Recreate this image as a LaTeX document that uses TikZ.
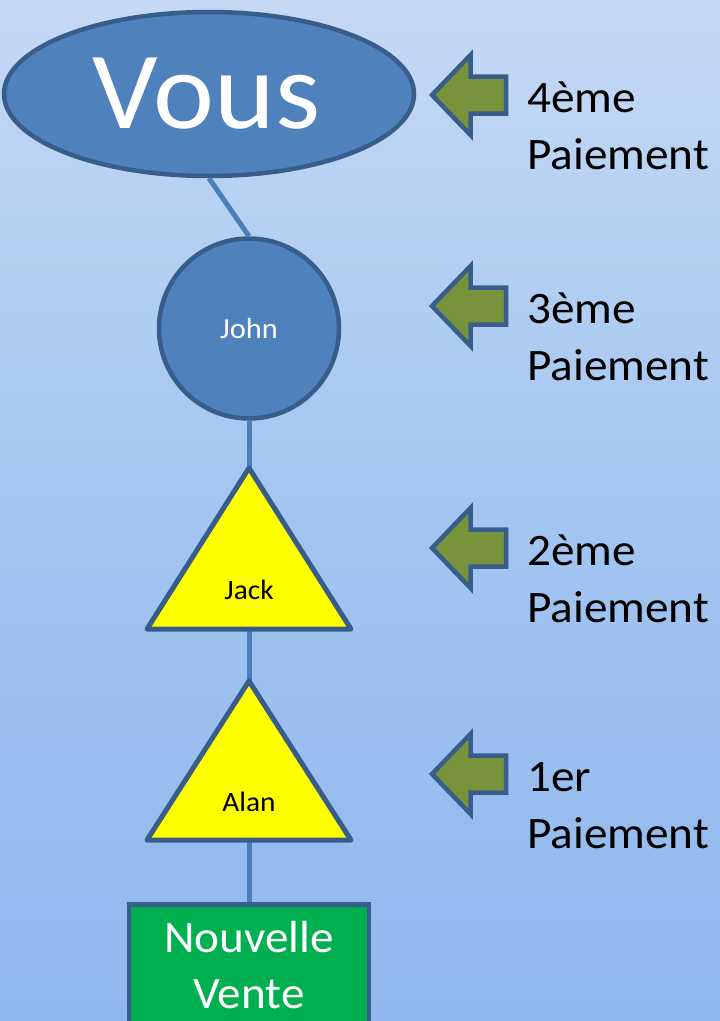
\documentclass[tikz,border=0pt]{standalone}
\usepackage{fontspec}
\setmainfont{Carlito}[FakeStretch=1.05]
\usetikzlibrary{shapes.geometric}
\definecolor{bgT}{RGB}{197,217,244}
\definecolor{bgM}{RGB}{163,197,241}
\definecolor{bgB}{RGB}{143,184,238}
\definecolor{shapeBlue}{RGB}{79,129,189}
\definecolor{borderBlue}{RGB}{56,93,138}
\definecolor{connBlue}{RGB}{74,126,187}
\definecolor{arrowGreen}{RGB}{119,147,60}
\definecolor{venteGreen}{RGB}{0,176,80}
\definecolor{triYellow}{RGB}{255,255,0}
\tikzset{
  bluenode/.style={draw=borderBlue, line width=4.5pt, fill=shapeBlue, inner sep=0pt, text=white},
  conn/.style={draw=connBlue, line width=5pt},
  tri/.style={draw=borderBlue, fill=triYellow, line width=5pt, line join=round},
  trilabel/.style={font=\fontsize{28}{28}\selectfont, anchor=base, inner sep=0pt, text=black},
  paylabel/.style={font=\fontsize{45}{57}\selectfont, anchor=base west, align=left, inner sep=0pt, text=black},
  arrowstyle/.style={draw=borderBlue, fill=arrowGreen, line width=4.5pt, line join=miter},
  payarrow/.pic={\path[arrowstyle] (-38.5,0) -- (0,-40) -- (0,-18.5) -- (35.5,-18.5) -- (35.5,18.5) -- (0,18.5) -- (0,40) -- cycle;}
}
\begin{document}
\begin{tikzpicture}[x=1pt,y=-1pt]
\useasboundingbox (0,0) rectangle (720,1021);
\clip (0,0) rectangle (720,1021);
\fill[top color=bgT, bottom color=bgB, middle color=bgM] (0,0) rectangle (720,1021);

% main nodes
\node[bluenode, ellipse, minimum width=410pt, minimum height=164pt,
      font=\fontsize{110}{110}\selectfont] (vous) at (209,94) {\raisebox{-2.5pt}{\kern-2.5pt Vous\kern2.5pt}};
\node[bluenode, circle, minimum size=180pt,
      font=\fontsize{29}{29}\selectfont] (john) at (249,328.5) {John};
\node[draw=borderBlue, line width=4.5pt, fill=venteGreen, minimum width=240pt,
      minimum height=170pt, anchor=north, inner sep=0pt] (vente) at (249,902) {};
\node[font=\fontsize{45}{56}\selectfont, text=white, align=center, anchor=base,
      inner sep=0pt] (venteTxt) at (249,1008) {Nouvelle\\Vente};

% triangle corners
\coordinate (jackA) at (249,468);
\coordinate (jackL) at (147,629);
\coordinate (jackR) at (351,629);
\coordinate (jackB) at (249,629);
\coordinate (alanA) at (249,681);
\coordinate (alanL) at (147,840);
\coordinate (alanR) at (351,840);
\coordinate (alanB) at (249,840);

% connectors
\draw[conn] (vous.south) -- (john.north);
\draw[conn] (john.south) -- (jackA);
\draw[conn] (jackB) -- (alanA);
\draw[conn] (alanB) -- (vente.north);

% triangles
\path[tri] (jackA) -- (jackL) -- (jackR) -- cycle;
\node[trilabel] (jack) at (249,599) {Jack};
\path[tri] (alanA) -- (alanL) -- (alanR) -- cycle;
\node[trilabel] (alan) at (249,811) {Alan};

% payment arrows and labels
\pic at (470.5,95) {payarrow};
\pic at (470.5,306) {payarrow};
\pic at (470.5,548) {payarrow};
\pic at (470.5,774) {payarrow};
\node[paylabel] (p4) at (527,169) {4ème\\Paiement};
\node[paylabel] (p3) at (527,380) {3ème\\Paiement};
\node[paylabel] (p2) at (527,622) {2ème\\Paiement};
\node[paylabel] (p1) at (527,848) {1er\\Paiement};
\end{tikzpicture}
\end{document}
